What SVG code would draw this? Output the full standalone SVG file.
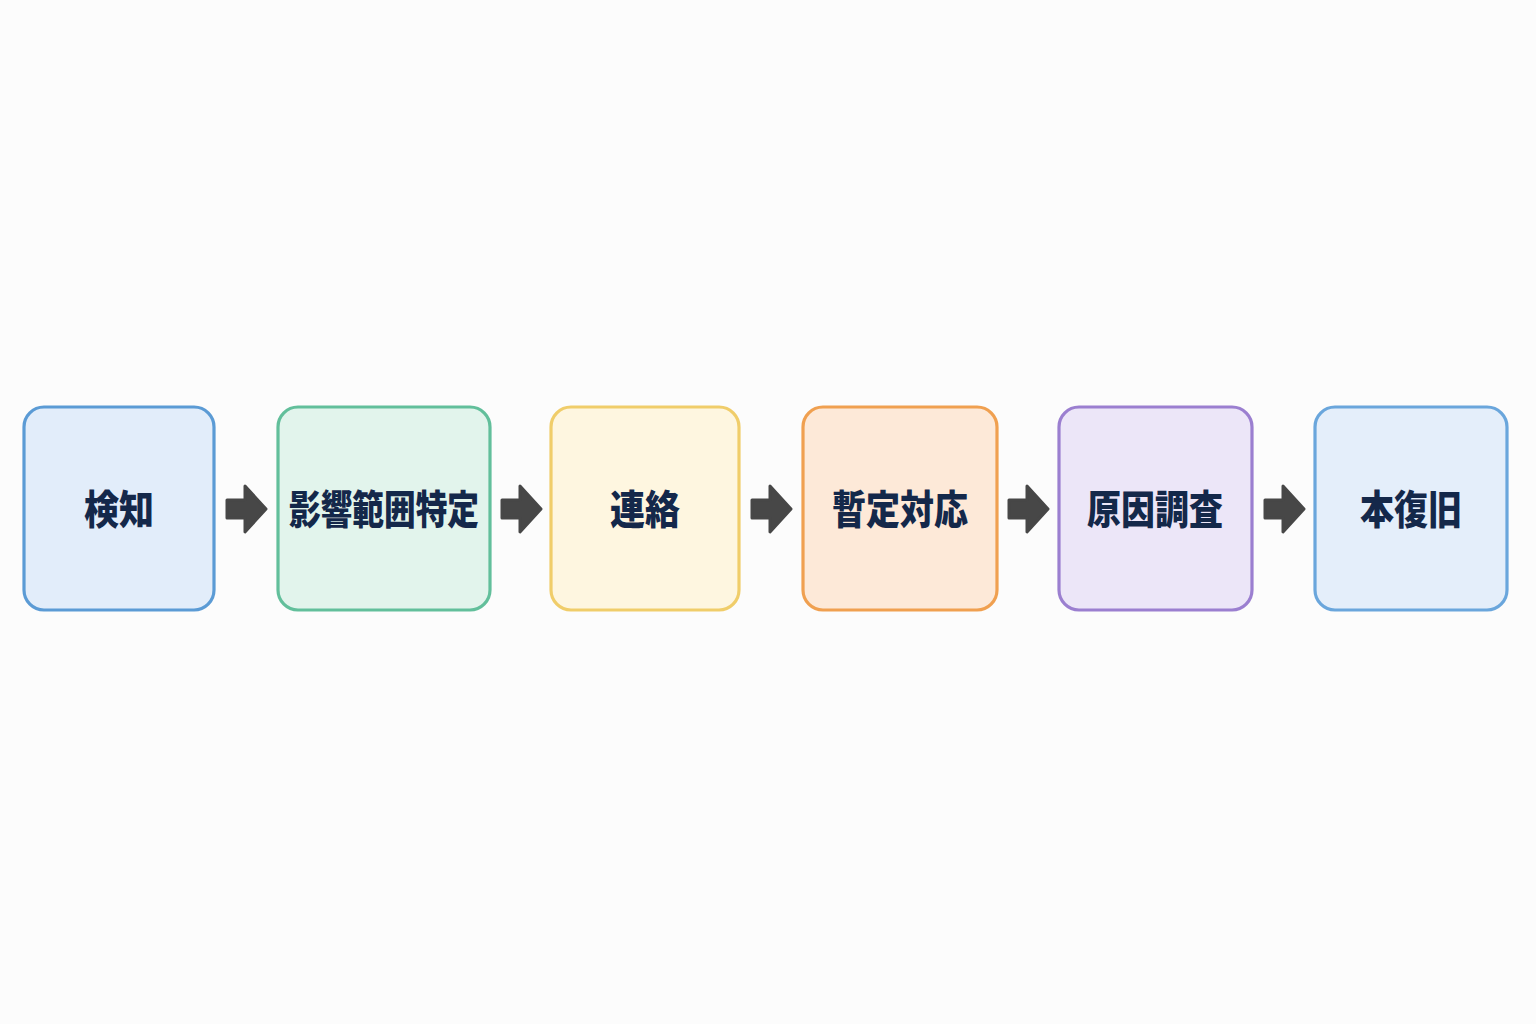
<svg xmlns="http://www.w3.org/2000/svg" width="1536" height="1024" viewBox="0 0 1536 1024">
<defs>
<style>
.box{stroke-width:3.2}
.lbl{font-family:"Noto Sans CJK JP","Noto Sans CJK SC",sans-serif;font-weight:900;font-size:40px;fill:#14284a;text-anchor:middle;dominant-baseline:central}
.arr{fill:#474747;stroke:#474747;stroke-width:3;stroke-linejoin:round}
</style>
<path id="a" d="M0,-9 H18 V-23 L39,0 L18,23 V9 H0 Z"/>
</defs>
<rect width="1536" height="1024" fill="#fcfcfc"/>
<g id="n1"><rect class="box" x="24" y="407" width="190" height="203" rx="20" fill="#e2edfa" stroke="#5b9bd5"/><text class="lbl" x="119" y="507" textLength="70" lengthAdjust="spacingAndGlyphs">検知</text></g>
<g id="n2"><rect class="box" x="278" y="407" width="212" height="203" rx="20" fill="#e2f4ec" stroke="#62bf9b"/><text class="lbl" x="384" y="507" textLength="190" lengthAdjust="spacingAndGlyphs">影響範囲特定</text></g>
<g id="n3"><rect class="box" x="551" y="407" width="188" height="203" rx="20" fill="#fef6e0" stroke="#f0cd6a"/><text class="lbl" x="645" y="507" textLength="70" lengthAdjust="spacingAndGlyphs">連絡</text></g>
<g id="n4"><rect class="box" x="803" y="407" width="194" height="203" rx="20" fill="#fde9d8" stroke="#f0a050"/><text class="lbl" x="900" y="507" textLength="136" lengthAdjust="spacingAndGlyphs">暫定対応</text></g>
<g id="n5"><rect class="box" x="1059" y="407" width="193" height="203" rx="20" fill="#ece6f8" stroke="#9b7fd0"/><text class="lbl" x="1155" y="507" textLength="136" lengthAdjust="spacingAndGlyphs">原因調査</text></g>
<g id="n6"><rect class="box" x="1315" y="407" width="192" height="203" rx="20" fill="#e4eefa" stroke="#6aa6dc"/><text class="lbl" x="1411" y="507" textLength="102" lengthAdjust="spacingAndGlyphs">本復旧</text></g>
<g id="connectors">
<use href="#a" class="arr" x="227" y="509"/>
<use href="#a" class="arr" x="502" y="509"/>
<use href="#a" class="arr" x="752" y="509"/>
<use href="#a" class="arr" x="1009" y="509"/>
<use href="#a" class="arr" x="1265" y="509"/>
</g>
</svg>
